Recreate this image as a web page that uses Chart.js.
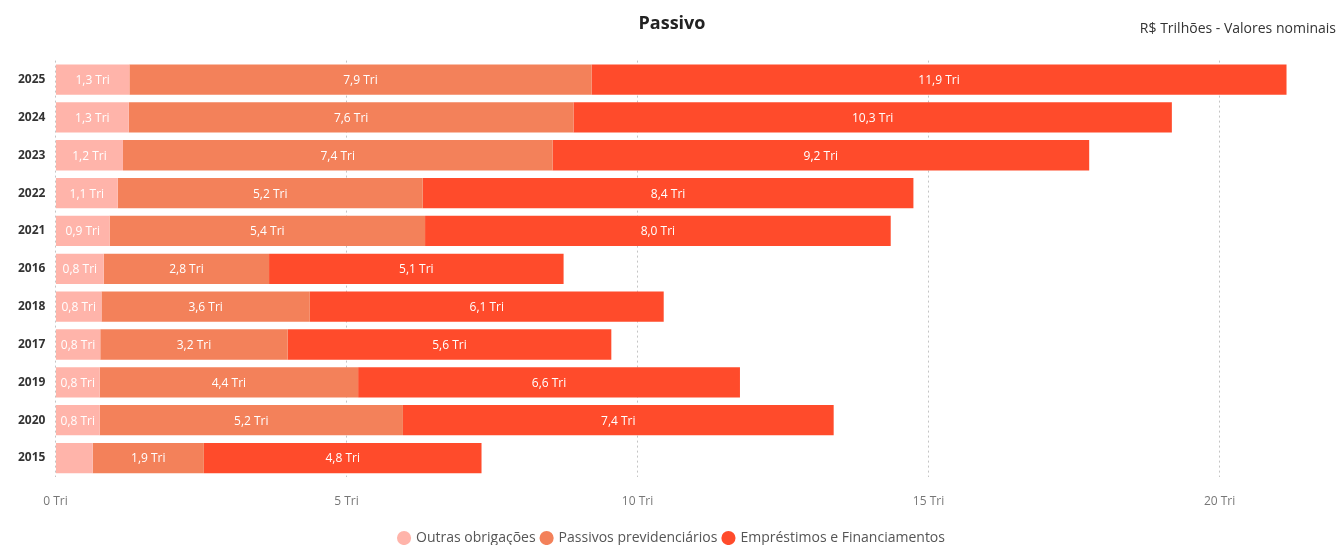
<!DOCTYPE html>
<html>
<head>
<meta charset="utf-8">
<script src="https://cdn.jsdelivr.net/npm/chart.js@4/dist/chart.umd.min.js"></script>
<style>
  html, body { margin: 0; padding: 0; background: #fff; }
  #wrap { width: 1340px; height: 545px; position: relative; }
</style>
</head>
<body>
<div id="wrap"><canvas id="passivo"></canvas></div>
<script>
// Passivo - R$ Trilhoes, valores nominais
const years = ['2025', '2024', '2023', '2022', '2021', '2016', '2018', '2017', '2019', '2020', '2015']
const outrasObrigacoes = [1.27, 1.26, 1.16, 1.07, 0.93, 0.83, 0.79, 0.77, 0.76, 0.76, 0.64]
const passivosPrevidenciarios = [7.94, 7.64, 7.38, 5.24, 5.42, 2.84, 3.58, 3.22, 4.44, 5.21, 1.91]
const emprestimosFinanciamentos = [11.94, 10.28, 9.22, 8.43, 8.00, 5.06, 6.08, 5.56, 6.56, 7.40, 4.77]
const xTicks = [0, 5, 10, 15, 20]

const FONT = "'Segoe UI', 'Open Sans', sans-serif"

const fmtTri = (v) => v.toFixed(1).replace('.', ',') + ' Tri'

// draws the value inside each bar segment, hidden when it does not fit
const barLabels = {
  id: 'barLabels',
  afterDatasetsDraw(chart) {
    const ctx = chart.ctx
    ctx.save()
    ctx.font = '12px ' + FONT
    ctx.fillStyle = '#ffffff'
    ctx.textAlign = 'center'
    ctx.textBaseline = 'middle'
    chart.data.datasets.forEach((ds, i) => {
      const meta = chart.getDatasetMeta(i)
      meta.data.forEach((bar, j) => {
        const txt = fmtTri(ds.data[j])
        const w = Math.abs(bar.x - bar.base)
        if (ctx.measureText(txt).width > w - 4) return
        ctx.fillText(txt, (bar.x + bar.base) / 2, bar.y + 1)
      })
    })
    ctx.restore()
  }
}

// unit note at the top right
const unitNote = {
  id: 'unitNote',
  afterDraw(chart) {
    const ctx = chart.ctx
    ctx.save()
    ctx.font = '14px ' + FONT
    ctx.fillStyle = '#333333'
    ctx.textAlign = 'right'
    ctx.textBaseline = 'middle'
    ctx.fillText('R$ Trilhões - Valores nominais', 1336, 29)
    ctx.restore()
  }
}

const ctx = document.getElementById('passivo').getContext('2d')
const chart = new Chart(ctx, {
  type: 'bar',
  data: {
    labels: years,
    datasets: [
      { label: 'Outras obrigações', data: outrasObrigacoes, backgroundColor: '#ffb4aa' },
      { label: 'Passivos previdenciários', data: passivosPrevidenciarios, backgroundColor: '#f3815a' },
      { label: 'Empréstimos e Financiamentos', data: emprestimosFinanciamentos, backgroundColor: '#ff4b2b' },
    ]
  },
  plugins: [barLabels, unitNote],
  options: {
    indexAxis: 'y',
    responsive: true,
    maintainAspectRatio: false,
    animation: false,
    barPercentage: 0.8,
    categoryPercentage: 1,
    layout: { padding: { left: 8, right: 4, top: 0, bottom: -10 } },
    scales: {
      x: {
        stacked: true,
        min: 0,
        max: 22,
        afterBuildTicks: (scale) => {
          scale.ticks = xTicks.map(v => ({ value: v }))
        },
        afterFit: (scale) => {
          scale.height = 48
        },
        ticks: {
          color: '#777777',
          font: { family: FONT, size: 12 },
          padding: 17,
          callback: (v) => v + ' Tri'
        },
        grid: {
          color: '#c4c4c4',
          drawTicks: false,
        },
        border: { display: false, dash: [2, 3] },
      },
      y: {
        stacked: true,
        ticks: {
          color: '#333333',
          font: { family: FONT, size: 12, weight: 'bold' },
          padding: 10,
        },
        grid: { display: false, drawTicks: false },
        border: { display: false },
      }
    },
    plugins: {
      title: {
        display: true,
        text: 'Passivo',
        color: '#222222',
        font: { family: FONT, size: 18, weight: 'bold' },
        padding: { top: 13, bottom: 26 },
      },
      legend: {
        position: 'bottom',
        labels: {
          usePointStyle: true,
          pointStyle: 'circle',
          boxWidth: 10,
          boxHeight: 10,
          padding: 6,
          color: '#555555',
          font: { family: FONT, size: 14 },
        }
      },
      tooltip: { enabled: false },
    }
  }
})
</script>
</body>
</html>
